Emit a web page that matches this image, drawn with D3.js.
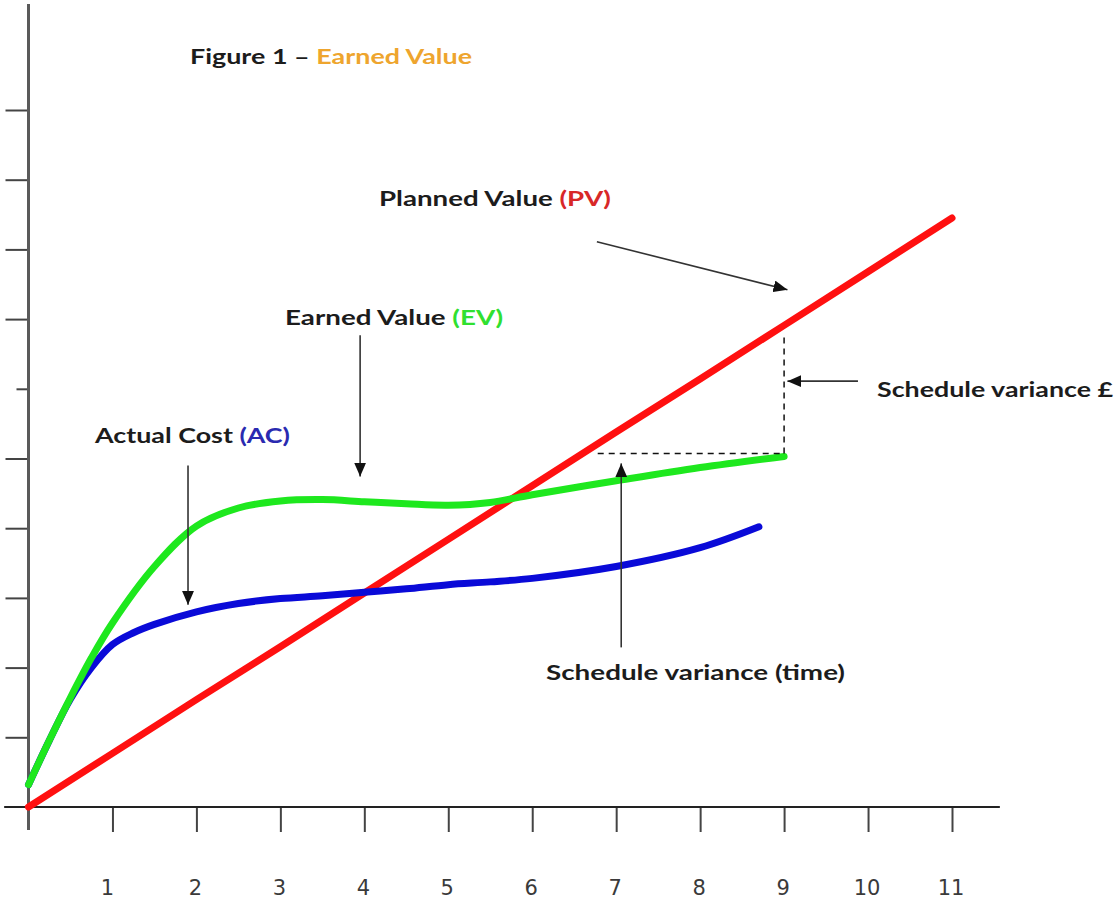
<!DOCTYPE html>
<html>
<head>
<meta charset="utf-8">
<script src="https://cdn.jsdelivr.net/npm/d3@7/dist/d3.min.js"></script>
<style>
  html, body { margin: 0; padding: 0; background: #fff; }
  svg { display: block; }
  .lbl { font-family: Lato, "Open Sans", sans-serif; font-weight: 700; fill: #1c1c1c; }
  .tick-lbl { font-family: "DejaVu Sans", sans-serif; fill: #3a3a3a; }
</style>
</head>
<body>
<svg id="chart" width="1117" height="901"></svg>
<script>
// Time periods on the x axis and value steps on the y axis
const xTicks = [1, 2, 3, 4, 5, 6, 7, 8, 9, 10, 11];
const yTicks = [1, 2, 3, 4, 5, 6, 7, 8, 9, 10];

// Planned Value (PV) - baseline spend plan
const pvTime  = [0, 1, 2, 3, 4, 5, 6, 7, 8, 9, 10, 11];
const pvValue = [0, 0.77, 1.54, 2.30, 3.07, 3.84, 4.61, 5.38, 6.14, 6.91, 7.68, 8.45];

// Earned Value (EV)
const evTime  = [0, 0.25, 0.5, 0.75, 1, 1.5, 2, 2.5, 3, 3.5, 4, 4.5, 5, 5.5, 6, 7, 8, 9];
const evValue = [0.32, 0.96, 1.57, 2.14, 2.64, 3.45, 4.03, 4.29, 4.39, 4.41, 4.38, 4.35, 4.33, 4.37, 4.48, 4.68, 4.87, 5.03];

// Actual Cost (AC)
const acTime  = [0, 0.25, 0.5, 0.75, 1, 1.25, 1.5, 2, 2.5, 3, 3.5, 4, 4.5, 5, 5.5, 6, 7, 8, 8.7];
const acValue = [0.32, 0.96, 1.55, 2.00, 2.33, 2.50, 2.62, 2.80, 2.92, 2.99, 3.03, 3.08, 3.13, 3.19, 3.23, 3.28, 3.45, 3.72, 4.02];

// Schedule variance markers at the status date
const statusTime = 9;
const svTimeStart = 6.78;   // where the plan reached today's earned value

const svg = d3.select("#chart");

const x = d3.scaleLinear().domain([0, 11]).range([28.5, 952]);
const y = d3.scaleLinear().domain([0, 10]).range([807, 110]);

// ---- axes ----
const gx = svg.append("g").attr("transform", `translate(0,${y(0)})`)
  .call(d3.axisBottom(x).tickValues(xTicks).tickSize(25).tickFormat(""));
gx.select(".domain").remove();
gx.selectAll(".tick line").attr("stroke", "#444").attr("stroke-width", 2);

svg.append("line")
  .attr("x1", x(-0.29)).attr("x2", x(11.57))
  .attr("y1", y(0)).attr("y2", y(0))
  .attr("stroke", "#222").attr("stroke-width", 2);

svg.selectAll(".tick-lbl").data(xTicks).join("text")
  .attr("class", "tick-lbl")
  .attr("x", d => x(d) - (d === 1 ? 5 : 1))
  .attr("y", 895)
  .attr("text-anchor", "middle")
  .attr("font-size", 21)
  .text(d => d);

const gy = svg.append("g").attr("transform", `translate(${x(0)},0)`)
  .call(d3.axisLeft(y).tickValues(yTicks).tickSize(23).tickFormat(""));
gy.select(".domain").remove();
gy.selectAll(".tick line").attr("stroke", "#444").attr("stroke-width", 2)
  .attr("x2", d => d === 6 ? -12 : -23);

svg.append("line")
  .attr("x1", x(0)).attr("x2", x(0))
  .attr("y1", y(-0.33)).attr("y2", y(11.52))
  .attr("stroke", "#5a5a5a").attr("stroke-width", 3);

// ---- series ----
const line = d3.line().x(d => x(d[0])).y(d => y(d[1]));
const lineSmooth = d3.line().x(d => x(d[0])).y(d => y(d[1])).curve(d3.curveCatmullRom.alpha(0.5));

svg.append("path")
  .datum(d3.zip(pvTime, pvValue))
  .attr("d", line)
  .attr("fill", "none").attr("stroke", "#ff1010").attr("stroke-width", 7)
  .attr("stroke-linecap", "round");

svg.append("path")
  .datum(d3.zip(acTime, acValue))
  .attr("d", lineSmooth)
  .attr("fill", "none").attr("stroke", "#0a0ad8").attr("stroke-width", 7)
  .attr("stroke-linecap", "round");

svg.append("path")
  .datum(d3.zip(evTime, evValue))
  .attr("d", lineSmooth)
  .attr("fill", "none").attr("stroke", "#1ee81e").attr("stroke-width", 7)
  .attr("stroke-linecap", "round");

// ---- schedule variance guides ----
const evNow = evValue[evValue.length - 1];
const pvNow = pvValue[pvTime.indexOf(statusTime)];
svg.append("line")
  .attr("x1", x(svTimeStart)).attr("x2", x(statusTime))
  .attr("y1", y(evNow) - 3).attr("y2", y(evNow) - 3)
  .attr("stroke", "#111").attr("stroke-width", 1.5).attr("stroke-dasharray", "6,5");
svg.append("line")
  .attr("x1", x(statusTime)).attr("x2", x(statusTime))
  .attr("y1", y(evNow) - 3).attr("y2", y(pvNow) + 8)
  .attr("stroke", "#111").attr("stroke-width", 1.5).attr("stroke-dasharray", "6,5");

// ---- annotation arrows ----
svg.append("defs").append("marker")
  .attr("id", "head")
  .attr("viewBox", "0 0 14 12")
  .attr("refX", 14).attr("refY", 6)
  .attr("markerWidth", 14).attr("markerHeight", 12)
  .attr("markerUnits", "userSpaceOnUse")
  .attr("orient", "auto")
  .append("path").attr("d", "M0,0 L14,6 L0,12 Z").attr("fill", "#111");

const arrows = [
  [[6.77, 8.11], [9.04, 7.42]],   // PV
  [[3.95, 6.77], [3.95, 4.74]],   // EV
  [[1.90, 4.90], [1.90, 2.90]],   // AC
  [[9.88, 6.11], [9.04, 6.11]],   // schedule variance £
  [[7.06, 2.29], [7.06, 4.93]]    // schedule variance (time)
];
svg.selectAll(".arrow").data(arrows).join("line")
  .attr("class", "arrow")
  .attr("x1", d => x(d[0][0])).attr("y1", d => y(d[0][1]))
  .attr("x2", d => x(d[1][0])).attr("y2", d => y(d[1][1]))
  .attr("stroke", "#333").attr("stroke-width", 1.6)
  .attr("marker-end", "url(#head)");

// ---- labels ----
function label(px, py, size, width, parts) {
  const t = svg.append("text").attr("class", "lbl")
    .attr("x", px).attr("y", py).attr("font-size", size)
    .attr("textLength", width).attr("lengthAdjust", "spacingAndGlyphs");
  parts.forEach(([s, c]) => t.append("tspan").attr("fill", c).text(s));
}
label(190, 64, 20, 282, [["Figure 1 \u2013 ", "#1c1c1c"], ["Earned Value", "#eea52e"]]);
label(379, 206, 21, 232, [["Planned Value ", "#1c1c1c"], ["(PV)", "#d82828"]]);
label(285, 325, 21, 218, [["Earned Value ", "#1c1c1c"], ["(EV)", "#30e030"]]);
label(95, 443, 21, 195, [["Actual Cost ", "#1c1c1c"], ["(AC)", "#2a2ab0"]]);
label(877, 397, 21, 236, [["Schedule variance \u00a3", "#1c1c1c"]]);
label(546, 680, 21, 299, [["Schedule variance (time)", "#1c1c1c"]]);
</script>
</body>
</html>
